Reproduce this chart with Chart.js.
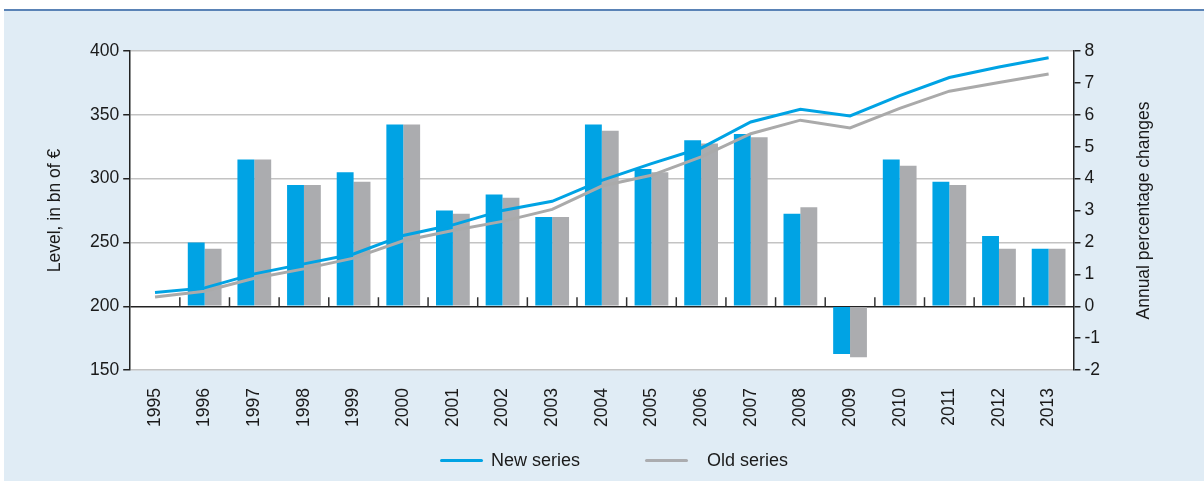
<!DOCTYPE html>
<html>
<head>
<meta charset="utf-8">
<script src="https://cdn.jsdelivr.net/npm/chart.js@4.4.1/dist/chart.umd.min.js"></script>
<style>
  html, body { margin: 0; padding: 0; background: #fff; }
  #wrap { position: relative; width: 1204px; height: 481px; overflow: hidden; }
  #chart { position: absolute; left: 0; top: 0; }
  .lg { position: absolute; top: 449px; height: 22px; font: 18px "Liberation Sans", Arial, sans-serif; color: #1a1a1a; line-height: 22px; }
  .lg i { position: absolute; top: 10px; width: 43px; height: 3px; border-radius: 2px; }
  .lg span { position: absolute; white-space: nowrap; }
</style>
</head>
<body>
<div id="wrap">
  <canvas id="chart" width="1204" height="481"></canvas>
  <div class="lg" style="left:440px"><i id="swNew" style="left:0"></i><span style="left:51px">New series</span></div>
  <div class="lg" style="left:645px"><i id="swOld" style="left:0"></i><span style="left:62px">Old series</span></div>
</div>
<script>
var years = ['1995', '1996', '1997', '1998', '1999', '2000', '2001', '2002', '2003', '2004',
             '2005', '2006', '2007', '2008', '2009', '2010', '2011', '2012', '2013'];

// level, in bn of euro (left axis)
var newLevel = [210.8, 214.4, 225.4, 233.2, 241.0, 255.5, 263.8, 275.1, 282.2, 298.6,
                311.7, 324.0, 344.4, 354.4, 349.1, 365.0, 379.2, 387.5, 394.7];
var oldLevel = [207.3, 211.8, 222.0, 229.3, 237.7, 251.3, 259.4, 266.5, 275.9, 294.2,
                302.6, 317.0, 335.2, 345.8, 339.7, 355.0, 368.5, 375.3, 381.9];

// annual percentage changes (right axis)
var newChange = [null, 2.0, 4.6, 3.8, 4.2, 5.7, 3.0, 3.5, 2.8, 5.7,
                 4.3, 5.2, 5.4, 2.9, -1.5, 4.6, 3.9, 2.2, 1.8];
var oldChange = [null, 1.8, 4.6, 3.8, 3.9, 5.7, 2.9, 3.4, 2.8, 5.5,
                 4.2, 5.1, 5.3, 3.1, -1.6, 4.4, 3.8, 1.8, 1.8];

var rightTitle = 'Annual percentage changes';

var BLUE = '#00a3e4';
var GREY = '#abacaf';
var INK = '#1a1a1a';
var FONT = { family: '"Liberation Sans", Arial, sans-serif', size: 17.5 };

document.getElementById('swNew').style.background = BLUE;
document.getElementById('swOld').style.background = GREY;

// panel background, top rule and white plot area
var panel = {
  id: 'panel',
  beforeDraw: function (chart) {
    var ctx = chart.ctx, a = chart.chartArea;
    ctx.save();
    ctx.fillStyle = '#fff';
    ctx.fillRect(0, 0, chart.width, chart.height);
    ctx.fillStyle = '#e0ecf5';
    ctx.fillRect(4, 11, chart.width - 4, chart.height - 11);
    ctx.fillStyle = '#5a83b6';
    ctx.fillRect(4, 9, chart.width - 4, 2);
    ctx.fillStyle = '#fff';
    ctx.fillRect(a.left, a.top, a.right - a.left, a.bottom - a.top);
    ctx.restore();
  }
};

// small ticks between the years on the zero line, and the right title read bottom-up
var extras = {
  id: 'extras',
  afterDatasetsDraw: function (chart) {
    var ctx = chart.ctx, x = chart.scales.x, y1 = chart.scales.y1;
    var y0 = y1.getPixelForValue(0);
    ctx.save();
    ctx.strokeStyle = '#333';
    ctx.lineWidth = 1.5;
    for (var i = 1; i < years.length; i++) {
      var px = (x.getPixelForValue(i - 1) + x.getPixelForValue(i)) / 2;
      ctx.beginPath();
      ctx.moveTo(px, y0 - 9);
      ctx.lineTo(px, y0);
      ctx.stroke();
    }
    ctx.restore();
  },
  afterDraw: function (chart) {
    var ctx = chart.ctx, s = chart.scales.y1, t = s.options.title;
    var lh = FONT.size * 1.2;
    var cx = s.right - t.padding.top - lh / 2;
    var cy = (s.top + s.bottom) / 2;
    ctx.save();
    ctx.translate(cx, cy);
    ctx.rotate(-Math.PI / 2);
    ctx.fillStyle = INK;
    ctx.font = FONT.size + 'px ' + FONT.family;
    ctx.textAlign = 'center';
    ctx.textBaseline = 'middle';
    ctx.fillText(rightTitle, 0, 0);
    ctx.restore();
  }
};

new Chart(document.getElementById('chart'), {
  data: {
    labels: years,
    datasets: [
      { type: 'line', label: 'New series', data: newLevel, yAxisID: 'y', order: 0,
        borderColor: BLUE, backgroundColor: BLUE, borderWidth: 3, pointRadius: 0, tension: 0 },
      { type: 'line', label: 'Old series', data: oldLevel, yAxisID: 'y', order: 1,
        borderColor: '#aaaaaa', backgroundColor: '#aaaaaa', borderWidth: 3, pointRadius: 0, tension: 0 },
      { type: 'bar', label: 'New series change', data: newChange, yAxisID: 'y1', order: 2,
        backgroundColor: BLUE, categoryPercentage: 0.68, barPercentage: 1.0 },
      { type: 'bar', label: 'Old series change', data: oldChange, yAxisID: 'y1', order: 2,
        backgroundColor: GREY, categoryPercentage: 0.68, barPercentage: 1.0 }
    ]
  },
  options: {
    responsive: false,
    animation: false,
    devicePixelRatio: 1,
    layout: { padding: { left: 20, right: 10, top: 51, bottom: 44 } },
    plugins: {
      legend: { display: false },
      tooltip: { enabled: false }
    },
    scales: {
      x: {
        type: 'category',
        offset: true,
        grid: { display: false },
        border: { display: false },
        ticks: { color: INK, font: FONT, minRotation: 90, maxRotation: 90, padding: 10, autoSkip: false }
      },
      y: {
        position: 'left',
        min: 150, max: 400,
        ticks: { stepSize: 50, color: INK, font: FONT, padding: 4 },
        grid: {
          color: function (c) { return c.tick && c.tick.value === 200 ? '#222' : '#c3c3c3'; },
          lineWidth: 1.5,
          tickLength: 7,
          tickColor: '#222'
        },
        border: { display: true, color: '#222', width: 1.5 },
        title: { display: true, text: 'Level, in bn of €', color: INK, font: FONT,
                 padding: { top: 25, bottom: 20 } }
      },
      y1: {
        position: 'right',
        min: -2, max: 8,
        ticks: { stepSize: 1, color: INK, font: FONT, padding: 4 },
        grid: { drawOnChartArea: false, tickLength: 7, tickColor: '#222', lineWidth: 1.5 },
        border: { display: true, color: '#222', width: 1.5 },
        // space is kept here; the text itself is drawn bottom-up by the extras plugin
        title: { display: true, text: rightTitle, color: 'rgba(0,0,0,0)', font: FONT,
                 padding: { top: 39, bottom: 30 } }
      }
    }
  },
  plugins: [panel, extras]
});
</script>
</body>
</html>
